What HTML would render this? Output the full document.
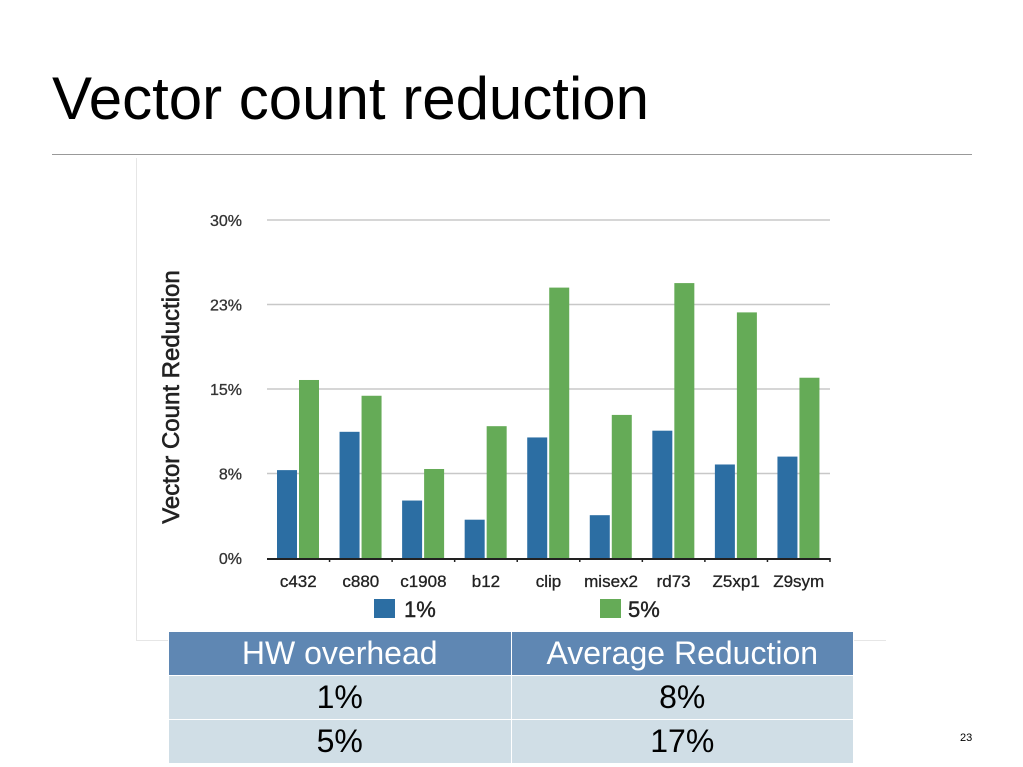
<!DOCTYPE html>
<html><head><meta charset="utf-8"><style>
body{margin:0;width:1023px;height:767px;background:#fff;font-family:"Liberation Sans",sans-serif;position:relative;overflow:hidden}
#title{position:absolute;left:52px;top:64px;font-size:60px;color:#000;margin:0;font-weight:normal}
#rule{position:absolute;left:52px;top:154px;width:920px;height:1px;background:#999}
#panel{position:absolute;left:136px;top:158px;width:749px;height:482px;border-left:1px solid #e6e6e6;border-bottom:1px solid #e6e6e6}
table{position:absolute;left:168px;top:631px;border-collapse:collapse;width:686px;font-size:32px}
td{height:43px;text-align:center;border:1px solid #fff;padding:0;width:50%}
tr.h td{background:#5f87b3;color:#fff}
tr.r td{background:#d0dee6;color:#000}
#pg{position:absolute;left:960px;top:732px;font-size:11px}
</style></head><body>
<h1 id="title">Vector count reduction</h1>
<div id="rule"></div>
<div id="panel"></div>
<svg id="chart" width="1023" height="767" style="position:absolute;left:0;top:0"></svg>
<table>
<tr class="h"><td>HW overhead</td><td>Average Reduction</td></tr>
<tr class="r"><td>1%</td><td>8%</td></tr>
<tr class="r"><td>5%</td><td>17%</td></tr>
</table>
<div id="pg">23</div>
<script>
const categories=["c432","c880","c1908","b12","clip","misex2","rd73","Z5xp1","Z9sym"];
const series1=[7.8,11.2,5.1,3.4,10.7,3.8,11.3,8.3,9.0];
const series5=[15.8,14.4,7.9,11.7,24.0,12.7,24.4,21.8,16.0];
const tickValues=[0,7.5,15,22.5,30];
const tickLabels=["0%","8%","15%","23%","30%"];
const svg=document.getElementById('chart');
const NS="http://www.w3.org/2000/svg";
const x0=267,x1=830,yBase=558,yTop=220,ymax=30;
const y=v=>yBase-(v/ymax)*(yBase-yTop);
const gw=(x1-x0)/categories.length;
const xg=i=>x0+i*gw;
function mk(t,a,txt){const e=document.createElementNS(NS,t);for(const k in a)e.setAttribute(k,a[k]);if(txt!==undefined)e.textContent=txt;svg.appendChild(e);return e;}
tickValues.forEach((v,i)=>{
  if(v>0){const l=mk('line',{x1:x0,x2:x1,y1:y(v),y2:y(v),stroke:'#c8c8c8','stroke-width':1.5});
  
  }
  const t=mk('text',{x:242,y:y(v)+6,'text-anchor':'end','font-size':16,fill:'#333','stroke':'#333','stroke-width':0.3},tickLabels[i]);
  
  
});
categories.forEach((c,i)=>{
  const b=mk('rect',{x:xg(i)+10,y:y(series1[i]),width:20,height:yBase-y(series1[i]),fill:'#2c6ea3'});
  
  
  const g=mk('rect',{x:xg(i)+32,y:y(series5[i]),width:20,height:yBase-y(series5[i]),fill:'#65ab57'});
  
  
  const t=mk('text',{x:xg(i)+gw/2,y:587,'text-anchor':'middle','font-size':17,fill:'#222','stroke':'#222','stroke-width':0.3},c);
  
  
  const tk=mk('line',{x1:xg(i+1),x2:xg(i+1),y1:yBase,y2:yBase+4,stroke:'#222','stroke-width':1.5});
  
  
});
const ax=mk('line',{x1:x0,x2:x1,y1:yBase+1,y2:yBase+1,stroke:'#222','stroke-width':2});


const yt=mk('text',{x:0,y:0,transform:'translate(179,397) rotate(-90)','text-anchor':'middle','font-size':24,fill:'#222','stroke':'#222','stroke-width':0.6},'Vector Count Reduction');


const l1=mk('rect',{x:374,y:599,width:21,height:19,fill:'#2c6ea3'});


const lt1=mk('text',{x:404,y:617,'font-size':22,fill:'#222','stroke':'#222','stroke-width':0.4},'1%');


const l5=mk('rect',{x:600,y:599,width:21,height:19,fill:'#65ab57'});


const lt5=mk('text',{x:628,y:617,'font-size':22,fill:'#222','stroke':'#222','stroke-width':0.4},'5%');


</script>
</body></html>
